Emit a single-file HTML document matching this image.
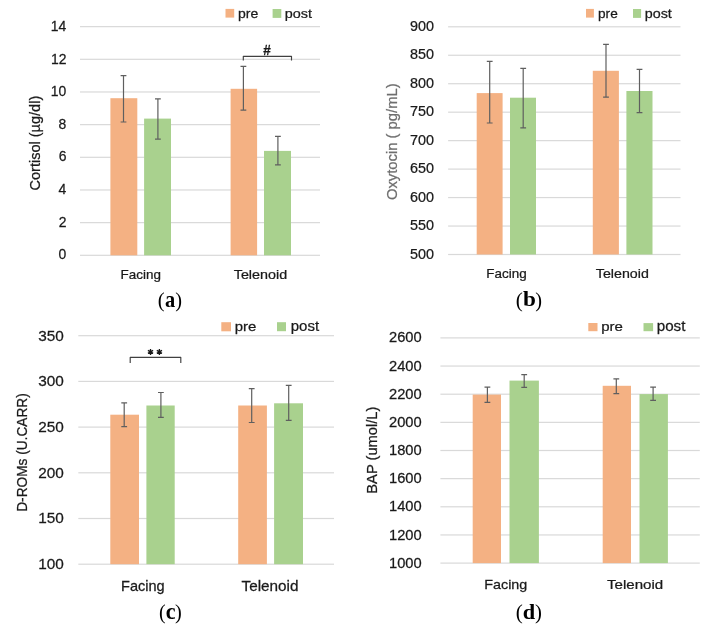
<!DOCTYPE html>
<html><head><meta charset="utf-8"><style>
html,body{margin:0;padding:0;background:#fff;}
svg{display:block;will-change:transform;}
.s{font-family:"Liberation Sans",sans-serif;}
.r{font-family:"Liberation Serif",serif;}
</style></head><body>
<svg width="707" height="629" viewBox="0 0 707 629">
<rect width="707" height="629" fill="#fff"/>
<rect x="80.00" y="254.70" width="240.00" height="1.2" fill="#D9D9D9"/>
<rect x="80.00" y="222.04" width="240.00" height="1.2" fill="#D9D9D9"/>
<rect x="80.00" y="189.37" width="240.00" height="1.2" fill="#D9D9D9"/>
<rect x="80.00" y="156.71" width="240.00" height="1.2" fill="#D9D9D9"/>
<rect x="80.00" y="124.04" width="240.00" height="1.2" fill="#D9D9D9"/>
<rect x="80.00" y="91.38" width="240.00" height="1.2" fill="#D9D9D9"/>
<rect x="80.00" y="58.71" width="240.00" height="1.2" fill="#D9D9D9"/>
<rect x="80.00" y="26.05" width="240.00" height="1.2" fill="#D9D9D9"/>
<rect x="448.10" y="253.90" width="232.40" height="1.2" fill="#D9D9D9"/>
<rect x="448.10" y="225.44" width="232.40" height="1.2" fill="#D9D9D9"/>
<rect x="448.10" y="196.97" width="232.40" height="1.2" fill="#D9D9D9"/>
<rect x="448.10" y="168.51" width="232.40" height="1.2" fill="#D9D9D9"/>
<rect x="448.10" y="140.05" width="232.40" height="1.2" fill="#D9D9D9"/>
<rect x="448.10" y="111.59" width="232.40" height="1.2" fill="#D9D9D9"/>
<rect x="448.10" y="83.12" width="232.40" height="1.2" fill="#D9D9D9"/>
<rect x="448.10" y="54.66" width="232.40" height="1.2" fill="#D9D9D9"/>
<rect x="448.10" y="26.20" width="232.40" height="1.2" fill="#D9D9D9"/>
<rect x="78.30" y="563.60" width="255.70" height="1.2" fill="#D9D9D9"/>
<rect x="78.30" y="517.90" width="255.70" height="1.2" fill="#D9D9D9"/>
<rect x="78.30" y="472.20" width="255.70" height="1.2" fill="#D9D9D9"/>
<rect x="78.30" y="426.50" width="255.70" height="1.2" fill="#D9D9D9"/>
<rect x="78.30" y="380.80" width="255.70" height="1.2" fill="#D9D9D9"/>
<rect x="78.30" y="335.10" width="255.70" height="1.2" fill="#D9D9D9"/>
<rect x="440.40" y="562.50" width="259.40" height="1.2" fill="#D9D9D9"/>
<rect x="440.40" y="534.35" width="259.40" height="1.2" fill="#D9D9D9"/>
<rect x="440.40" y="506.20" width="259.40" height="1.2" fill="#D9D9D9"/>
<rect x="440.40" y="478.05" width="259.40" height="1.2" fill="#D9D9D9"/>
<rect x="440.40" y="449.90" width="259.40" height="1.2" fill="#D9D9D9"/>
<rect x="440.40" y="421.75" width="259.40" height="1.2" fill="#D9D9D9"/>
<rect x="440.40" y="393.60" width="259.40" height="1.2" fill="#D9D9D9"/>
<rect x="440.40" y="365.45" width="259.40" height="1.2" fill="#D9D9D9"/>
<rect x="440.40" y="337.30" width="259.40" height="1.2" fill="#D9D9D9"/>
<rect x="110.40" y="98.20" width="26.90" height="157.10" fill="#F4B183"/>
<rect x="144.10" y="118.60" width="26.90" height="136.70" fill="#A9D18E"/>
<rect x="230.60" y="88.80" width="26.50" height="166.50" fill="#F4B183"/>
<rect x="264.00" y="150.90" width="27.00" height="104.40" fill="#A9D18E"/>
<rect x="476.70" y="93.10" width="25.90" height="161.40" fill="#F4B183"/>
<rect x="510.00" y="97.70" width="26.00" height="156.80" fill="#A9D18E"/>
<rect x="592.80" y="70.80" width="26.10" height="183.70" fill="#F4B183"/>
<rect x="626.40" y="91.00" width="26.10" height="163.50" fill="#A9D18E"/>
<rect x="110.30" y="414.70" width="28.70" height="149.50" fill="#F4B183"/>
<rect x="146.40" y="405.50" width="28.30" height="158.70" fill="#A9D18E"/>
<rect x="238.20" y="405.50" width="28.70" height="158.70" fill="#F4B183"/>
<rect x="274.10" y="403.30" width="28.90" height="160.90" fill="#A9D18E"/>
<rect x="472.70" y="394.60" width="28.30" height="168.50" fill="#F4B183"/>
<rect x="509.50" y="380.60" width="29.40" height="182.50" fill="#A9D18E"/>
<rect x="602.70" y="385.80" width="28.30" height="177.30" fill="#F4B183"/>
<rect x="639.50" y="394.10" width="28.40" height="169.00" fill="#A9D18E"/>
<path d="M123.50 75.60V122.00M120.60 75.60H126.40M120.60 122.00H126.40" stroke="#5f5f5f" stroke-width="1.2" fill="none"/>
<path d="M157.90 98.80V139.10M155.00 98.80H160.80M155.00 139.10H160.80" stroke="#5f5f5f" stroke-width="1.2" fill="none"/>
<path d="M243.40 66.30V110.20M240.50 66.30H246.30M240.50 110.20H246.30" stroke="#5f5f5f" stroke-width="1.2" fill="none"/>
<path d="M277.90 136.30V164.80M275.00 136.30H280.80M275.00 164.80H280.80" stroke="#5f5f5f" stroke-width="1.2" fill="none"/>
<path d="M489.70 61.40V123.00M486.80 61.40H492.60M486.80 123.00H492.60" stroke="#5f5f5f" stroke-width="1.2" fill="none"/>
<path d="M523.20 68.30V127.80M520.30 68.30H526.10M520.30 127.80H526.10" stroke="#5f5f5f" stroke-width="1.2" fill="none"/>
<path d="M606.00 44.40V97.10M603.10 44.40H608.90M603.10 97.10H608.90" stroke="#5f5f5f" stroke-width="1.2" fill="none"/>
<path d="M639.50 69.40V112.60M636.60 69.40H642.40M636.60 112.60H642.40" stroke="#5f5f5f" stroke-width="1.2" fill="none"/>
<path d="M124.20 402.80V426.60M121.30 402.80H127.10M121.30 426.60H127.10" stroke="#5f5f5f" stroke-width="1.2" fill="none"/>
<path d="M160.90 392.50V417.40M158.00 392.50H163.80M158.00 417.40H163.80" stroke="#5f5f5f" stroke-width="1.2" fill="none"/>
<path d="M251.70 388.60V422.50M248.80 388.60H254.60M248.80 422.50H254.60" stroke="#5f5f5f" stroke-width="1.2" fill="none"/>
<path d="M288.70 385.40V420.30M285.80 385.40H291.60M285.80 420.30H291.60" stroke="#5f5f5f" stroke-width="1.2" fill="none"/>
<path d="M487.40 387.10V402.30M484.50 387.10H490.30M484.50 402.30H490.30" stroke="#5f5f5f" stroke-width="1.2" fill="none"/>
<path d="M524.20 374.60V387.30M521.30 374.60H527.10M521.30 387.30H527.10" stroke="#5f5f5f" stroke-width="1.2" fill="none"/>
<path d="M616.30 378.90V393.60M613.40 378.90H619.20M613.40 393.60H619.20" stroke="#5f5f5f" stroke-width="1.2" fill="none"/>
<path d="M653.10 387.20V400.40M650.20 387.20H656.00M650.20 400.40H656.00" stroke="#5f5f5f" stroke-width="1.2" fill="none"/>
<text stroke="#1a1a1a" stroke-width="0.25" transform="translate(58.61,259.35) scale(0.9444,1)" class="s" font-size="14.78" fill="#1a1a1a">0</text>
<text stroke="#1a1a1a" stroke-width="0.25" transform="translate(58.75,226.84) scale(0.9444,1)" class="s" font-size="14.78" fill="#1a1a1a">2</text>
<text stroke="#1a1a1a" stroke-width="0.25" transform="translate(58.47,194.17) scale(0.9444,1)" class="s" font-size="14.78" fill="#1a1a1a">4</text>
<text stroke="#1a1a1a" stroke-width="0.25" transform="translate(58.68,161.36) scale(0.9444,1)" class="s" font-size="14.78" fill="#1a1a1a">6</text>
<text stroke="#1a1a1a" stroke-width="0.25" transform="translate(58.61,128.70) scale(0.9444,1)" class="s" font-size="14.78" fill="#1a1a1a">8</text>
<text stroke="#1a1a1a" stroke-width="0.25" transform="translate(50.79,96.03) scale(0.9444,1)" class="s" font-size="14.78" fill="#1a1a1a">10</text>
<text stroke="#1a1a1a" stroke-width="0.25" transform="translate(51.00,63.51) scale(0.9444,1)" class="s" font-size="14.78" fill="#1a1a1a">12</text>
<text stroke="#1a1a1a" stroke-width="0.25" transform="translate(50.65,30.85) scale(0.9444,1)" class="s" font-size="14.78" fill="#1a1a1a">14</text>
<text stroke="#1a1a1a" stroke-width="0.25" transform="translate(410.05,258.65) scale(0.9916,1)" class="s" font-size="14.51" fill="#1a1a1a">500</text>
<text stroke="#1a1a1a" stroke-width="0.25" transform="translate(410.05,230.19) scale(0.9916,1)" class="s" font-size="14.51" fill="#1a1a1a">550</text>
<text stroke="#1a1a1a" stroke-width="0.25" transform="translate(410.05,201.73) scale(0.9916,1)" class="s" font-size="14.51" fill="#1a1a1a">600</text>
<text stroke="#1a1a1a" stroke-width="0.25" transform="translate(410.05,173.27) scale(0.9916,1)" class="s" font-size="14.51" fill="#1a1a1a">650</text>
<text stroke="#1a1a1a" stroke-width="0.25" transform="translate(410.05,144.80) scale(0.9916,1)" class="s" font-size="14.51" fill="#1a1a1a">700</text>
<text stroke="#1a1a1a" stroke-width="0.25" transform="translate(410.05,116.34) scale(0.9916,1)" class="s" font-size="14.51" fill="#1a1a1a">750</text>
<text stroke="#1a1a1a" stroke-width="0.25" transform="translate(410.05,87.88) scale(0.9916,1)" class="s" font-size="14.51" fill="#1a1a1a">800</text>
<text stroke="#1a1a1a" stroke-width="0.25" transform="translate(410.05,59.42) scale(0.9916,1)" class="s" font-size="14.51" fill="#1a1a1a">850</text>
<text stroke="#1a1a1a" stroke-width="0.25" transform="translate(410.05,30.95) scale(0.9916,1)" class="s" font-size="14.51" fill="#1a1a1a">900</text>
<text stroke="#1a1a1a" stroke-width="0.25" transform="translate(38.29,569.15) scale(1.0377,1)" class="s" font-size="14.79" fill="#1a1a1a">100</text>
<text stroke="#1a1a1a" stroke-width="0.25" transform="translate(38.29,523.45) scale(1.0377,1)" class="s" font-size="14.79" fill="#1a1a1a">150</text>
<text stroke="#1a1a1a" stroke-width="0.25" transform="translate(38.29,477.75) scale(1.0377,1)" class="s" font-size="14.79" fill="#1a1a1a">200</text>
<text stroke="#1a1a1a" stroke-width="0.25" transform="translate(38.29,432.05) scale(1.0377,1)" class="s" font-size="14.79" fill="#1a1a1a">250</text>
<text stroke="#1a1a1a" stroke-width="0.25" transform="translate(38.29,386.35) scale(1.0377,1)" class="s" font-size="14.79" fill="#1a1a1a">300</text>
<text stroke="#1a1a1a" stroke-width="0.25" transform="translate(38.29,340.65) scale(1.0377,1)" class="s" font-size="14.79" fill="#1a1a1a">350</text>
<text stroke="#1a1a1a" stroke-width="0.25" transform="translate(388.96,567.65) scale(0.9851,1)" class="s" font-size="14.93" fill="#1a1a1a">1000</text>
<text stroke="#1a1a1a" stroke-width="0.25" transform="translate(388.96,539.50) scale(0.9851,1)" class="s" font-size="14.93" fill="#1a1a1a">1200</text>
<text stroke="#1a1a1a" stroke-width="0.25" transform="translate(388.96,511.35) scale(0.9851,1)" class="s" font-size="14.93" fill="#1a1a1a">1400</text>
<text stroke="#1a1a1a" stroke-width="0.25" transform="translate(388.96,483.20) scale(0.9851,1)" class="s" font-size="14.93" fill="#1a1a1a">1600</text>
<text stroke="#1a1a1a" stroke-width="0.25" transform="translate(388.96,455.05) scale(0.9851,1)" class="s" font-size="14.93" fill="#1a1a1a">1800</text>
<text stroke="#1a1a1a" stroke-width="0.25" transform="translate(388.96,426.90) scale(0.9851,1)" class="s" font-size="14.93" fill="#1a1a1a">2000</text>
<text stroke="#1a1a1a" stroke-width="0.25" transform="translate(388.96,398.75) scale(0.9851,1)" class="s" font-size="14.93" fill="#1a1a1a">2200</text>
<text stroke="#1a1a1a" stroke-width="0.25" transform="translate(388.96,370.60) scale(0.9851,1)" class="s" font-size="14.93" fill="#1a1a1a">2400</text>
<text stroke="#1a1a1a" stroke-width="0.25" transform="translate(388.96,342.45) scale(0.9851,1)" class="s" font-size="14.93" fill="#1a1a1a">2600</text>
<text stroke="#1a1a1a" stroke-width="0.25" transform="translate(120.52,279.10) scale(1.0716,1)" class="s" font-weight="normal" font-size="12.55" fill="#1a1a1a">Facing</text>
<text stroke="#1a1a1a" stroke-width="0.25" transform="translate(233.74,279.00) scale(1.1055,1)" class="s" font-weight="normal" font-size="12.97" fill="#1a1a1a">Telenoid</text>
<text stroke="#1a1a1a" stroke-width="0.25" transform="translate(486.32,278.10) scale(1.0716,1)" class="s" font-weight="normal" font-size="12.55" fill="#1a1a1a">Facing</text>
<text stroke="#1a1a1a" stroke-width="0.25" transform="translate(595.84,278.20) scale(1.0630,1)" class="s" font-weight="normal" font-size="13.38" fill="#1a1a1a">Telenoid</text>
<text stroke="#1a1a1a" stroke-width="0.25" transform="translate(121.04,590.70) scale(1.0539,1)" class="s" font-weight="normal" font-size="13.79" fill="#1a1a1a">Facing</text>
<text stroke="#1a1a1a" stroke-width="0.25" transform="translate(241.52,590.90) scale(1.0580,1)" class="s" font-weight="normal" font-size="14.48" fill="#1a1a1a">Telenoid</text>
<text stroke="#1a1a1a" stroke-width="0.25" transform="translate(484.25,589.20) scale(1.0845,1)" class="s" font-weight="normal" font-size="13.24" fill="#1a1a1a">Facing</text>
<text stroke="#1a1a1a" stroke-width="0.25" transform="translate(607.02,588.70) scale(1.1268,1)" class="s" font-weight="normal" font-size="13.38" fill="#1a1a1a">Telenoid</text>
<text transform="translate(157.86,306.65) scale(0.9593,1)" class="r" font-weight="normal" font-size="21.67" fill="#000">(</text>
<text transform="translate(164.99,306.58) scale(0.8747,1)" class="r" font-weight="bold" font-size="23.37" fill="#000">a</text>
<text transform="translate(175.29,306.65) scale(0.9408,1)" class="r" font-weight="normal" font-size="21.67" fill="#000">)</text>
<text transform="translate(515.85,306.65) scale(0.9774,1)" class="r" font-weight="normal" font-size="21.67" fill="#000">(</text>
<text transform="translate(522.95,306.48) scale(1.0614,1)" class="r" font-weight="bold" font-size="21.86" fill="#000">b</text>
<text transform="translate(535.29,306.65) scale(0.9408,1)" class="r" font-weight="normal" font-size="21.67" fill="#000">)</text>
<text transform="translate(159.00,619.08) scale(0.9091,1)" class="r" font-weight="normal" font-size="22.00" fill="#000">(</text>
<text transform="translate(165.63,618.98) scale(0.9904,1)" class="r" font-weight="bold" font-size="22.29" fill="#000">c</text>
<text transform="translate(175.09,619.08) scale(0.9266,1)" class="r" font-weight="normal" font-size="22.00" fill="#000">)</text>
<text transform="translate(515.85,619.08) scale(0.9626,1)" class="r" font-weight="normal" font-size="22.00" fill="#000">(</text>
<text transform="translate(522.70,618.69) scale(1.0442,1)" class="r" font-weight="bold" font-size="21.43" fill="#000">d</text>
<text transform="translate(535.08,619.08) scale(0.9441,1)" class="r" font-weight="normal" font-size="22.00" fill="#000">)</text>
<rect x="225.50" y="8.90" width="8.70" height="8.70" fill="#F4B183"/>
<rect x="272.60" y="9.00" width="8.70" height="8.90" fill="#A9D18E"/>
<text stroke="#1a1a1a" stroke-width="0.25" transform="translate(237.99,17.67) scale(1.0402,1)" class="s" font-weight="normal" font-size="13.47" fill="#1a1a1a">pre</text>
<text stroke="#1a1a1a" stroke-width="0.25" transform="translate(284.86,17.72) scale(1.0892,1)" class="s" font-weight="normal" font-size="13.22" fill="#1a1a1a">post</text>
<rect x="586.00" y="8.90" width="7.90" height="8.70" fill="#F4B183"/>
<rect x="633.00" y="9.00" width="8.10" height="8.90" fill="#A9D18E"/>
<text stroke="#1a1a1a" stroke-width="0.25" transform="translate(598.01,17.67) scale(1.0123,1)" class="s" font-weight="normal" font-size="13.47" fill="#1a1a1a">pre</text>
<text stroke="#1a1a1a" stroke-width="0.25" transform="translate(644.77,17.68) scale(1.0662,1)" class="s" font-weight="normal" font-size="13.45" fill="#1a1a1a">post</text>
<rect x="221.30" y="322.20" width="9.70" height="9.10" fill="#F4B183"/>
<rect x="277.00" y="322.20" width="9.00" height="9.00" fill="#A9D18E"/>
<text stroke="#1a1a1a" stroke-width="0.25" transform="translate(234.83,330.97) scale(1.1069,1)" class="s" font-weight="normal" font-size="13.47" fill="#1a1a1a">pre</text>
<text stroke="#1a1a1a" stroke-width="0.25" transform="translate(290.72,330.98) scale(1.0427,1)" class="s" font-weight="normal" font-size="14.39" fill="#1a1a1a">post</text>
<rect x="588.30" y="323.00" width="9.20" height="8.20" fill="#F4B183"/>
<rect x="643.50" y="323.10" width="9.60" height="8.10" fill="#A9D18E"/>
<text stroke="#1a1a1a" stroke-width="0.25" transform="translate(601.13,331.27) scale(1.1125,1)" class="s" font-weight="normal" font-size="13.47" fill="#1a1a1a">pre</text>
<text stroke="#1a1a1a" stroke-width="0.25" transform="translate(656.71,331.05) scale(1.0805,1)" class="s" font-weight="normal" font-size="14.04" fill="#1a1a1a">post</text>
<path d="M243.30 60.60V56.30H291.50V60.60" stroke="#404040" stroke-width="1.15" stroke-linejoin="round" fill="none"/>
<text stroke="#1a1a1a" stroke-width="0.25" transform="translate(263.30,54.70) scale(0.9481,1)" class="s" font-weight="bold" font-size="14.26" fill="#1a1a1a">#</text>
<path d="M130.20 363.00V357.40H180.80V363.00" stroke="#404040" stroke-width="1.15" stroke-linejoin="round" fill="none"/>
<path d="M150.51 348.90L150.51 354.90M147.91 350.40L153.11 353.40M153.11 350.40L147.91 353.40" stroke="#1a1a1a" stroke-width="1.35" fill="none"/>
<path d="M159.39 348.90L159.39 354.90M156.79 350.40L161.99 353.40M161.99 350.40L156.79 353.40" stroke="#1a1a1a" stroke-width="1.35" fill="none"/>
<text stroke="#1a1a1a" stroke-width="0.25" transform="translate(40.05,190.43) rotate(-90) scale(0.9683,1)" class="s" font-size="15.00" fill="#1a1a1a">Cortisol (µg/dl)</text>
<text stroke="#6e6e6e" stroke-width="0.25" transform="translate(396.70,200.07) rotate(-90) scale(0.9632,1)" class="s" font-size="15.36" fill="#6e6e6e">Oxytocin ( pg/mL)</text>
<text stroke="#1a1a1a" stroke-width="0.25" transform="translate(26.95,511.80) rotate(-90) scale(0.9493,1)" class="s" font-size="14.42" fill="#1a1a1a">D-ROMs (U.CARR)</text>
<text stroke="#1a1a1a" stroke-width="0.25" transform="translate(377.40,493.68) rotate(-90) scale(0.9844,1)" class="s" font-size="14.93" fill="#1a1a1a">BAP (umol/L)</text>
</svg>
</body></html>
